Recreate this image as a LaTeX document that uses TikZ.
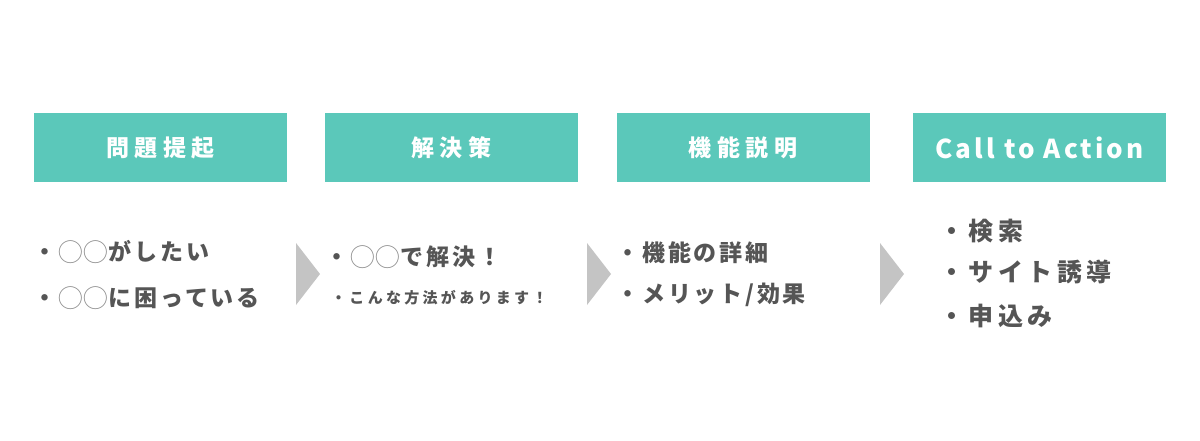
\documentclass[tikz,border=0pt]{standalone}
\usepackage{fontspec}
\newfontfamily\jphead[LetterSpace=24]{Noto Sans CJK JP}
\newfontfamily\jphlat[LetterSpace=12]{Noto Sans CJK JP}
\newfontfamily\jpbody[LetterSpace=12]{Noto Sans CJK JP}
\newfontfamily\jpbig[LetterSpace=18]{Noto Sans CJK JP}
\newfontfamily\jpsmall[LetterSpace=22]{Noto Sans CJK JP}
\newfontfamily\jpcirc{Noto Sans CJK JP}
\definecolor{teal}{HTML}{5BC8BA}
\definecolor{txt}{HTML}{555555}
\definecolor{circ}{HTML}{8A8A8A}
\definecolor{arr}{HTML}{C4C4C4}
\newcommand{\cc}{\kern2pt\raisebox{-0.8pt}{\scalebox{1.07}{\jpcirc\mdseries\color{circ}◯◯}}\kern1pt}
\tikzset{
  headbox/.style={fill=teal, draw=none, minimum width=253pt, minimum height=69pt, inner sep=0pt, text=white, font=\jphead\bfseries\fontsize{23}{25}\selectfont},
  item/.style={anchor=west, inner sep=0pt, text=txt, font=\jpbody\bfseries\fontsize{23}{25}\selectfont},
  bigitem/.style={anchor=west, inner sep=0pt, text=txt, font=\jpbig\bfseries\fontsize{25}{27}\selectfont},
  smallitem/.style={anchor=west, inner sep=0pt, text=txt, font=\jpsmall\bfseries\fontsize{15}{17}\selectfont},
  chev/.style={fill=arr, draw=none}
}
\begin{document}
\begin{tikzpicture}[x=1pt,y=-1pt]
\useasboundingbox (0,0) rectangle (1200,440);
\fill[white] (0,0) rectangle (1200,440);
% header boxes
\node[headbox] (h1) at (160.5,147.5) {問題提起};
\node[headbox] (h2) at (451.5,147.5) {解決策};
\node[headbox] (h3) at (743,147.5) {機能説明};
\node[headbox, font=\jphlat\bfseries\fontsize{26}{28}\selectfont] (h4) at (1039.5,147.5) {Call to Action};
% arrows
\coordinate (a1) at (296,243);
\fill[chev] (a1) -- ++(24,31) -- ++(-24,31) -- cycle;
\coordinate (a2) at (587,243);
\fill[chev] (a2) -- ++(24,31) -- ++(-24,31) -- cycle;
\coordinate (a3) at (880,243);
\fill[chev] (a3) -- ++(24,31) -- ++(-24,31) -- cycle;
% column 1
\node[item] (c1a) at (33.5,252) {・\cc がしたい};
\node[item] (c1b) at (33.5,298) {・\cc に困っている};
% column 2
\node[item] (c2a) at (325.5,257) {・\cc で解決！};
\node[smallitem] (c2b) at (331,298) {・こんな方法があります！};
% column 3
\node[item] (c3a) at (616.5,252.5) {・機能の詳細};
\node[item] (c3b) at (616.5,294.5) {・メリット/効果};
% column 4
\node[bigitem] (c4a) at (939,231) {・検索};
\node[bigitem] (c4b) at (939,271.5) {・サイト誘導};
\node[bigitem] (c4c) at (939,316) {・申込み};
\end{tikzpicture}
\end{document}
